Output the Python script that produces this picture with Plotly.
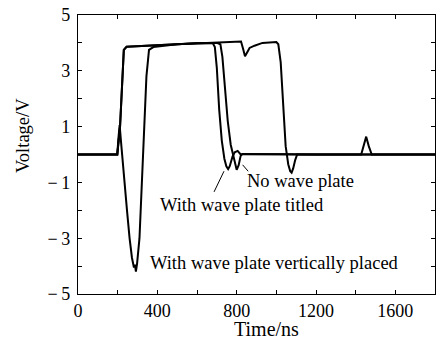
import plotly.graph_objects as go

# ---- data ----
t_titled = [0, 198, 212, 222, 231, 245, 300, 400, 500, 600, 680, 690, 700, 712, 725, 738, 748, 757, 765, 772, 779, 790, 805, 818, 1000, 1200, 1400, 1800]
v_titled = [0, 0, 1.0, 2.8, 3.75, 3.86, 3.88, 3.93, 3.96, 3.99, 3.99, 3.85, 3.1, 1.6, 0.5, -0.15, -0.42, -0.52, -0.42, -0.22, -0.08, 0.08, 0.13, 0.02, 0, 0, 0, 0]

t_nowave = [0, 198, 212, 222, 231, 245, 300, 400, 500, 600, 700, 718, 728, 740, 755, 770, 782, 792, 800, 810, 820, 830, 1000, 1200, 1428, 1440, 1453, 1466, 1481, 1500, 1800]
v_nowave = [0, 0, 1.0, 2.8, 3.75, 3.86, 3.88, 3.93, 3.96, 3.99, 4.0, 3.95, 3.5, 2.4, 1.2, 0.35, -0.05, -0.4, -0.55, -0.38, -0.05, 0.02, 0, 0, 0, 0.35, 0.64, 0.3, 0, 0, 0]

t_vert = [0, 198, 204, 210, 220, 233, 247, 260, 272, 282, 287, 292, 298, 310, 322, 333, 345, 358, 380, 500, 650, 800, 822, 832, 842, 852, 865, 890, 930, 1000, 1010, 1022, 1035, 1047, 1060, 1070, 1077, 1085, 1095, 1105, 1300, 1800]
v_vert = [0, 0, 0.6, 1.05, 0.2, -1.0, -2.0, -3.0, -3.7, -4.05, -3.95, -4.2, -3.9, -3.0, -1.0, 1.0, 2.8, 3.75, 3.85, 3.95, 4.0, 4.05, 4.05, 3.8, 3.52, 3.65, 3.82, 3.9, 4.0, 4.03, 3.95, 3.3, 1.8, 0.3, -0.35, -0.6, -0.65, -0.5, -0.2, 0, 0, 0]

x_tickvals = [0, 200, 400, 600, 800, 1000, 1200, 1400, 1600, 1800]
x_ticktext = ["0", "", "400", "", "800", "", "1200", "", "1600", ""]
y_tickvals = [-5, -4, -3, -2, -1, 0, 1, 2, 3, 4, 5]
y_ticktext = ["\u2212\u20095", "", "\u2212\u20093", "", "\u2212\u20091", "", "1", "", "3", "", "5"]

FONT = "Liberation Serif"
line_style = dict(color="black", width=2)

fig = go.Figure()
for t, v, name in [(t_titled, v_titled, "With wave plate titled"),
                   (t_nowave, v_nowave, "No wave plate"),
                   (t_vert, v_vert, "With wave plate vertically placed")]:
    fig.add_trace(go.Scatter(x=t, y=v, mode="lines", line=line_style, name=name,
                             showlegend=False))

ann_font = dict(family=FONT, size=18.5, color="black")
fig.add_annotation(x=402, y=-1.8, xref="x", yref="y", text="With wave plate titled",
                   showarrow=False, xanchor="left", yanchor="middle", font=ann_font)
fig.add_annotation(x=841, y=-0.96, xref="x", yref="y", text="No wave plate",
                   showarrow=False, xanchor="left", yanchor="middle", font=ann_font)
fig.add_annotation(x=355, y=-3.88, xref="x", yref="y", text="With wave plate vertically placed",
                   showarrow=False, xanchor="left", yanchor="middle", font=ann_font)

# pointer lines
fig.add_shape(type="line", x0=686, y0=-1.34, x1=736, y1=-0.60, xref="x", yref="y",
              line=dict(color="black", width=1))
fig.add_shape(type="line", x0=830, y0=-0.37, x1=858, y1=-0.60, xref="x", yref="y",
              line=dict(color="black", width=1))

# axis titles
fig.add_annotation(x=0.529, y=-0.127, xref="paper", yref="paper", text="Time/ns",
                   showarrow=False, xanchor="center", yanchor="middle",
                   font=dict(family=FONT, size=20, color="black"))
fig.add_annotation(x=-0.156, y=0.567, xref="paper", yref="paper", text="Voltage/V",
                   showarrow=False, xanchor="center", yanchor="middle", textangle=-90,
                   font=dict(family=FONT, size=18.5, color="black"))

axis_common = dict(showline=True, linecolor="black", linewidth=1.3, mirror="ticks",
                   ticks="inside", ticklen=4, tickwidth=1.2, tickcolor="black",
                   showgrid=False, zeroline=False,
                   tickfont=dict(family=FONT, size=18, color="black"))

fig.update_xaxes(range=[0, 1800], tickmode="array", tickvals=x_tickvals,
                 ticktext=x_ticktext, ticklabelstandoff=0, **axis_common)
fig.update_yaxes(range=[-5, 5], tickmode="array", tickvals=y_tickvals,
                 ticktext=y_ticktext, ticklabelstandoff=3, **axis_common)

fig.update_layout(width=441, height=339,
                  margin=dict(l=78, r=5, t=12, b=45),
                  plot_bgcolor="white", paper_bgcolor="white",
                  font=dict(family=FONT, color="black"))

fig.write_html("out.html", config={"displayModeBar": False},
               post_script="document.body.style.margin='0';document.body.style.overflow='hidden';")
